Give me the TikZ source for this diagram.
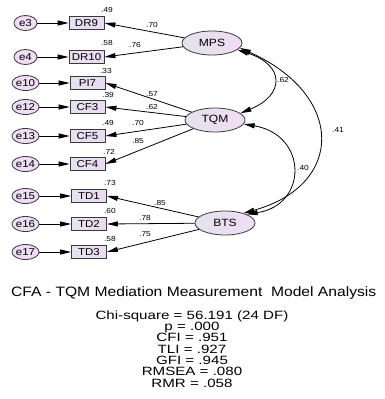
\documentclass[tikz,border=0pt]{standalone}
\usepackage{fontspec}
\setmainfont[FakeStretch=1.15]{Liberation Sans}
\newfontfamily\statfont[FakeStretch=1.26]{Liberation Sans}
\usetikzlibrary{shapes.geometric,arrows.meta}
\definecolor{lavL}{HTML}{E4E2EC}
\definecolor{lavR}{HTML}{F0DCF4}
\definecolor{errfill}{HTML}{EEDDF4}
\definecolor{boxL}{HTML}{E6E2EE}
\definecolor{boxR}{HTML}{EADAF2}
\definecolor{edge}{HTML}{3A3A3A}
\begin{document}
\begin{tikzpicture}[x=1pt,y=-1pt,
  tip/.tip={Triangle[length=11pt,width=5pt]},
  errnode/.style={ellipse,draw=edge,line width=0.8pt,fill=errfill,minimum width=23pt,minimum height=15pt,inner sep=0pt,font=\fontsize{10}{10}\selectfont},
  obsnode/.style={rectangle,draw=edge,line width=0.8pt,left color=boxL,right color=boxR,minimum width=35pt,minimum height=13pt,inner sep=0pt,font=\fontsize{10}{10}\selectfont},
  latnode/.style={ellipse,draw=edge,line width=0.8pt,left color=lavL,right color=lavR,minimum width=60pt,minimum height=24pt,inner sep=0pt,font=\fontsize{10.5}{10.5}\selectfont},
  arr/.style={-tip,line width=0.8pt,black},
  cov/.style={tip-tip,line width=0.8pt,black},
  sm/.style={font=\fontsize{7.3}{7.3}\selectfont,inner sep=0pt},
  stat/.style={font=\statfont\fontsize{12}{11.3}\selectfont,align=center,inner sep=0pt}]
\useasboundingbox (0,0) rectangle (384,399);
\clip (0,0) rectangle (384,399);
\fill[white] (0,0) rectangle (384,399);

% latent variables
\node[latnode] (MPS) at (212,43) {MPS};
\node[latnode] (TQM) at (215,120) {TQM};
\node[latnode] (BTS) at (225,223) {BTS};

% observed + errors
\node[obsnode] (DR9) at (86.5,23) {DR9};
\node[obsnode] (DR10) at (86.5,57) {DR10};
\node[obsnode] (PI7) at (87.5,83) {PI7};
\node[obsnode] (CF3) at (87.5,107) {CF3};
\node[obsnode] (CF5) at (87.5,136) {CF5};
\node[obsnode] (CF4) at (87.5,164) {CF4};
\node[obsnode] (TD1) at (89,196) {TD1};
\node[obsnode] (TD2) at (89,224) {TD2};
\node[obsnode] (TD3) at (89,252) {TD3};

\node[errnode] (e3) at (25.5,23) {e3};
\node[errnode] (e4) at (25.5,57) {e4};
\node[errnode] (e10) at (25.5,83) {e10};
\node[errnode] (e12) at (25.5,107) {e12};
\node[errnode] (e13) at (25.5,136) {e13};
\node[errnode] (e14) at (25.5,164) {e14};
\node[errnode] (e15) at (25.5,196) {e15};
\node[errnode] (e16) at (25.5,224) {e16};
\node[errnode] (e17) at (25.5,252) {e17};

\foreach \e/\o in {e3/DR9,e4/DR10,e10/PI7,e12/CF3,e13/CF5,e14/CF4,e15/TD1,e16/TD2,e17/TD3}
  \draw[arr] (\e) -- (\o);

% loadings
\draw[arr] (MPS) -- (DR9.east);
\draw[arr] (MPS) -- (DR10.east);
\draw[arr] (TQM) -- (PI7.east);
\draw[arr] (TQM) -- (CF3.east);
\draw[arr] (TQM) -- (CF5.east);
\draw[arr] (TQM) -- (CF4.east);
\draw[arr] (BTS) -- (TD1.east);
\draw[arr] (BTS) -- (TD2.east);
\draw[arr] (BTS) -- (TD3.east);

% covariances
\draw[cov] (MPS.-15) .. controls (285,65) and (285,95) .. (TQM.15);
\draw[cov] (MPS.-10) .. controls (345,95) and (345,185) .. (BTS.28);
\draw[cov] (TQM.-8) .. controls (308,135) and (308,205) .. (BTS.22);

% R-squared labels
\node[sm] (r1) at (107,10) {.49};
\node[sm] (r2) at (107,43) {.58};
\node[sm] (r3) at (106,71) {.33};
\node[sm] (r4) at (108,95) {.39};
\node[sm] (r5) at (108,123) {.49};
\node[sm] (r6) at (109,152) {.72};
\node[sm] (r7) at (110,183) {.73};
\node[sm] (r8) at (110,211) {.60};
\node[sm] (r9) at (110,239) {.58};

% loading labels
\node[sm] (l1) at (152,25) {.70};
\node[sm] (l2) at (135,45) {.76};
\node[sm] (l3) at (152,94) {.57};
\node[sm] (l4) at (152,107) {.62};
\node[sm] (l5) at (138,123) {.70};
\node[sm] (l6) at (138,141) {.85};
\node[sm] (l7) at (160,203) {.85};
\node[sm] (l8) at (145,218) {.78};
\node[sm] (l9) at (145,234) {.75};

% covariance labels
\node[sm] (c1) at (283,80) {.62};
\node[sm] (c2) at (338,130) {.41};
\node[sm] (c3) at (303,168) {.40};

% title and statistics
\node[anchor=west,inner sep=0pt,font=\fontsize{13.6}{13.6}\selectfont] (title) at (11,293) {CFA - TQM Mediation Measurement\ \ Model Analysis};
\node[stat] (stats) at (192,349) {Chi-square = 56.191 (24 DF)\\p = .000\\CFI = .951\\TLI = .927\\GFI = .945\\RMSEA = .080\\RMR = .058};
\end{tikzpicture}
\end{document}
